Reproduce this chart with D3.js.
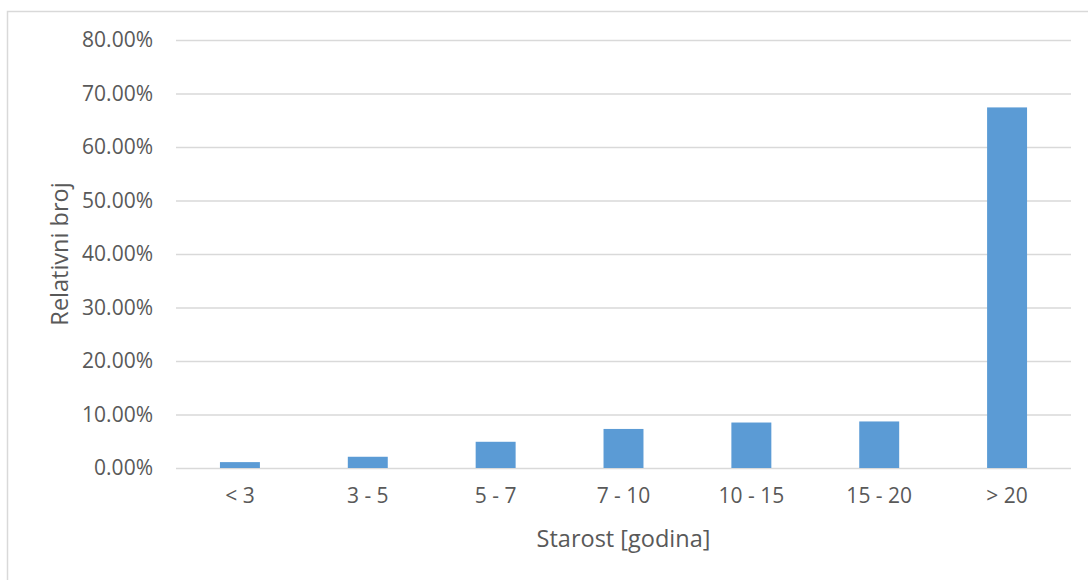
<!DOCTYPE html>
<html>
<head>
<meta charset="utf-8">
<script src="https://cdn.jsdelivr.net/npm/d3@7"></script>
<style>
  body { margin: 0; background: #fff; }
  text { font-family: "Open Sans", sans-serif; fill: #595959; }
</style>
</head>
<body>
<div class="chart"></div>
<script>
/** data */
const categories = ['< 3', '3 - 5', '5 - 7', '7 - 10', '10 - 15', '15 - 20', '> 20'];
const shares = [1.1, 2.1, 4.9, 7.3, 8.5, 8.7, 67.4];
const yTicks = [0, 10, 20, 30, 40, 50, 60, 70, 80];

let width = 1088, height = 580;
let margin = {left: 176, right: 17, top: 40, bottom: 112};

let svg = d3.select('.chart').append('svg')
    .attr('width', width)
    .attr('height', height);

/** chart frame */
svg.append('rect')
    .attr('x', 7.5)
    .attr('y', 11.5)
    .attr('width', width + 20)
    .attr('height', height + 20)
    .attr('fill', 'none')
    .attr('stroke', '#d9d9d9')
    .attr('stroke-width', 1.5);

let x = d3.scaleBand()
    .domain(categories)
    .range([margin.left, width - margin.right])
    .paddingInner(0.6875)
    .paddingOuter(0.34375);

let y = d3.scaleLinear()
    .domain([0, 80])
    .range([height - margin.bottom, margin.top]);

/** gridlines + y labels */
let yAxis = d3.axisLeft(y)
    .tickValues(yTicks)
    .tickSize(-(width - margin.left - margin.right))
    .tickPadding(23)
    .tickFormat(d => d.toFixed(2) + '%');

let yg = svg.append('g')
    .attr('transform', `translate(${margin.left},0)`)
    .call(yAxis);
yg.select('.domain').remove();
yg.selectAll('.tick line')
    .attr('stroke', '#d9d9d9')
    .attr('stroke-width', 1.3);
yg.selectAll('.tick text')
    .style('font-size', '21px');

/** bars */
svg.selectAll('.bar')
    .data(shares)
    .enter()
    .append('rect')
    .attr('class', 'bar')
    .attr('x', (d, i) => x(categories[i]))
    .attr('y', d => y(d))
    .attr('width', x.bandwidth())
    .attr('height', d => y(0) - y(d))
    .attr('fill', '#5b9bd5');

/** x labels */
let xAxis = d3.axisBottom(x).tickSize(0).tickPadding(20);
let xg = svg.append('g')
    .attr('transform', `translate(0,${height - margin.bottom})`)
    .call(xAxis);
xg.select('.domain').remove();
xg.selectAll('.tick text')
    .style('font-size', '21px');

/** axis titles */
svg.append('text')
    .attr('x', (margin.left + width - margin.right) / 2)
    .attr('y', 547)
    .attr('text-anchor', 'middle')
    .style('font-size', '23.5px')
    .text('Starost [godina]');

svg.append('text')
    .attr('transform', `translate(68,${(margin.top + height - margin.bottom) / 2}) rotate(-90)`)
    .attr('text-anchor', 'middle')
    .style('font-size', '23.5px')
    .text('Relativni broj');
</script>
</body>
</html>
